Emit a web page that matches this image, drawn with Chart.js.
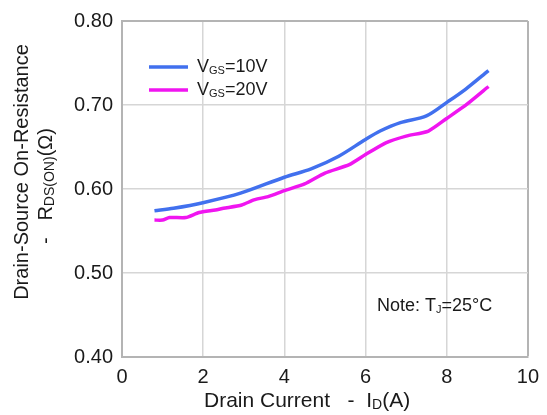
<!DOCTYPE html>
<html>
<head>
<meta charset="utf-8">
<script src="https://cdn.jsdelivr.net/npm/chart.js@4.4.1/dist/chart.umd.min.js"></script>
<style>
  html, body { margin: 0; padding: 0; background: #fff; }
</style>
</head>
<body>
<canvas id="chart" width="547" height="415"></canvas>
<script>
// values
const currentA10 = [0.8, 1.27, 2.02, 2.92, 4.0, 4.66, 5.34, 6.0, 6.36, 6.86, 7.5, 8.03, 8.47, 9.03];
const rdsOn10 = [0.574, 0.577, 0.584, 0.595, 0.614, 0.624, 0.639, 0.659, 0.669, 0.679, 0.687, 0.704, 0.719, 0.741];
const currentA20 = [0.8, 1.0, 1.17, 1.57, 1.9, 2.3, 2.5, 2.95, 3.25, 3.6, 4.0, 4.5, 5.0, 5.6, 6.0, 6.5, 7.0, 7.55, 8.0, 8.5, 9.03];
const rdsOn20 = [0.563, 0.563, 0.566, 0.566, 0.572, 0.575, 0.577, 0.581, 0.587, 0.591, 0.598, 0.606, 0.619, 0.629, 0.641, 0.655, 0.663, 0.669, 0.684, 0.701, 0.722];
const xTicks = [0, 2, 4, 6, 8, 10];
const yTicks = [0.40, 0.50, 0.60, 0.70, 0.80];
const seriesLabels = ["VGS=10V", "VGS=20V"];
const seriesColors = ["#4170ee", "#f015f0"];

const FONT = "'Liberation Sans', Arial, sans-serif";
const gridCol = "#d6d6d6";
const borderCol = "#b4b4b4";

// draw text with subscript pieces, [text, isSub]
function drawRich(ctx, parts, x, y, size, subSize) {
  let cx = x;
  parts.forEach(([t, sub]) => {
    ctx.font = (sub ? subSize : size) + "px " + FONT;
    ctx.fillText(t, cx, sub ? y + size * 0.22 : y);
    cx += ctx.measureText(t).width;
  });
  return cx - x;
}
function richWidth(ctx, parts, size, subSize) {
  let w = 0;
  parts.forEach(([t, sub]) => {
    ctx.font = (sub ? subSize : size) + "px " + FONT;
    w += ctx.measureText(t).width;
  });
  return w;
}

const textPlugin = {
  id: "texts",
  afterDraw(chart) {
    const ctx = chart.ctx;
    ctx.save();
    ctx.fillStyle = "#1a1a1a";
    ctx.textBaseline = "middle";
    ctx.textAlign = "left";

    // legend
    chart.data.datasets.forEach((ds, i) => {
      const y = 67 + i * 23;
      ctx.strokeStyle = ds.borderColor;
      ctx.lineWidth = 3.5;
      ctx.beginPath();
      ctx.moveTo(149, y);
      ctx.lineTo(188, y);
      ctx.stroke();
      const lbl = ds.label;
      drawRich(ctx, [[lbl.slice(0, 1), false], [lbl.slice(1, 3), true], [lbl.slice(3), false]], 197, y, 18, 11);
    });

    // note
    drawRich(ctx, [["Note: T", false], ["J", true], ["=25°C", false]], 377, 306, 18, 11);

    // x title
    drawRich(ctx, [["Drain Current   -  I", false], ["D", true], ["(A)", false]], 204, 401, 21, 14);

    // y title, two lines
    ctx.save();
    ctx.translate(22, 172);
    ctx.rotate(-Math.PI / 2);
    ctx.font = "20px " + FONT;
    ctx.textAlign = "center";
    ctx.fillText("Drain-Source On-Resistance", 0, 0);
    ctx.restore();

    ctx.save();
    ctx.translate(46, 186);
    ctx.rotate(-Math.PI / 2);
    const p2 = [["-   R", false], ["DS(ON)", true], ["(Ω)", false]];
    const w2 = richWidth(ctx, p2, 20, 14);
    drawRich(ctx, p2, -w2 / 2, 0, 20, 14);
    ctx.restore();

    ctx.restore();
  }
};

new Chart(document.getElementById("chart"), {
  type: "line",
  data: {
    datasets: [
      {
        label: seriesLabels[0],
        data: currentA10.map((x, i) => ({x: x, y: rdsOn10[i]})),
        borderColor: seriesColors[0],
        borderWidth: 3.5,
        pointRadius: 0,
        tension: 0.3,
        fill: false,
      },
      {
        label: seriesLabels[1],
        data: currentA20.map((x, i) => ({x: x, y: rdsOn20[i]})),
        borderColor: seriesColors[1],
        borderWidth: 3.5,
        pointRadius: 0,
        tension: 0.2,
        fill: false,
      },
    ],
  },
  options: {
    responsive: false,
    animation: false,
    devicePixelRatio: 1,
    layout: {padding: {left: 0, right: 14, top: 18, bottom: 0}},
    plugins: {legend: {display: false}, tooltip: {enabled: false}},
    scales: {
      x: {
        type: "linear",
        min: 0,
        max: 10,
        afterBuildTicks: (s) => { s.ticks = xTicks.map((v) => ({value: v})); },
        afterFit: (s) => { s.height = 58; },
        ticks: {padding: 8, color: "#1a1a1a", font: {family: FONT, size: 20}},
        grid: {
          drawTicks: false,
          color: (c) => (c.tick && c.tick.value === 10 ? borderCol : gridCol),
          lineWidth: (c) => (c.tick && c.tick.value === 10 ? 2 : 1.5),
        },
        border: {color: borderCol, width: 2},
      },
      y: {
        min: 0.4,
        max: 0.8,
        afterBuildTicks: (s) => { s.ticks = yTicks.map((v) => ({value: v})); },
        afterFit: (s) => { s.width = 122; },
        ticks: {
          padding: 9,
          color: "#1a1a1a",
          font: {family: FONT, size: 20},
          callback: (v) => Number(v).toFixed(2),
        },
        grid: {
          drawTicks: false,
          color: (c) => (c.tick && c.tick.value === 0.8 ? borderCol : gridCol),
          lineWidth: (c) => (c.tick && c.tick.value === 0.8 ? 2 : 1.5),
        },
        border: {color: borderCol, width: 2},
      },
    },
  },
  plugins: [textPlugin],
});
</script>
</body>
</html>
